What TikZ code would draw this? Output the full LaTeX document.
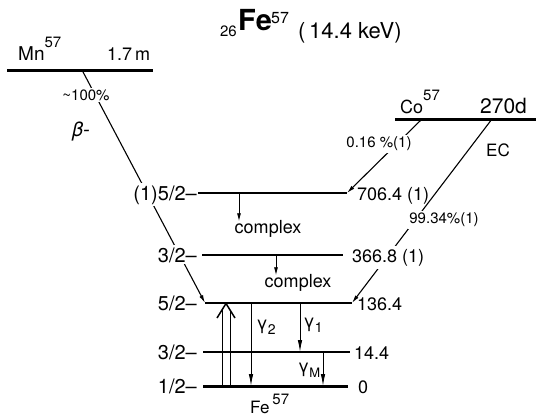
\documentclass[tikz,border=0pt]{standalone}
\usepackage{fontspec}
\setmainfont{TeX Gyre Heros}
\usetikzlibrary{arrows.meta}
\newcommand\myfs[1]{\fontsize{#1}{#1}\selectfont}
\begin{document}
\begin{tikzpicture}[x=1pt,y=-1pt,
  level/.style={line width=2pt},
  thicklevel/.style={line width=3pt},
  decay/.style={line width=1.1pt,-{Latex[length=8pt,width=4pt]}},
  gam/.style={line width=0.9pt,-{Latex[length=12pt,width=4.5pt]}},
  cplx/.style={line width=0.9pt,-{Latex[length=8pt,width=4pt]}},
  lab/.style={inner sep=0pt,font=\myfs{18}},
  spin/.style={anchor=base east,inner xsep=0pt,inner ysep=2pt,fill=white,font=\myfs{20}},
  small/.style={fill=white,inner sep=1.5pt,font=\myfs{15}},
]
\useasboundingbox (0,0) rectangle (536,418);
% level coordinates
\coordinate (mnL) at (7,70);   \coordinate (mnR) at (153,70);
\coordinate (coL) at (395,119); \coordinate (coR) at (536,119);
\coordinate (aL) at (198,193); \coordinate (aR) at (347,193);
\coordinate (bL) at (202,255); \coordinate (bR) at (343,255);
\coordinate (cL) at (205,303); \coordinate (cR) at (352,303);
\coordinate (dL) at (203,352); \coordinate (dR) at (350,352);
\coordinate (eL) at (203,386); \coordinate (eR) at (348,386);
% levels
\draw[thicklevel] (mnL) -- (mnR);
\draw[thicklevel] (coL) -- (coR);
\draw[level] (aL) -- (aR);
\draw[level] (bL) -- (bR);
\draw[level] (cL) -- (cR);
\draw[line width=1.5pt] (dL) -- (dR);
\draw[thicklevel] (eL) -- (eR);
% decay lines
\coordinate (mnS) at (82,70);
\coordinate (coS1) at (422,119);
\coordinate (coS2) at (492,119);
\draw[decay] (mnS) -- (cL);
\draw[decay] (coS1) -- (aR);
\draw[decay] (coS2) -- (cR);
% complex
\node[lab] (cx1) at (268,229) {complex};
\node[lab] (cx2) at (298,283) {complex};
\coordinate (x1) at (239,193);
\coordinate (x2) at (276,255);
\draw[cplx] (x1) -- ([yshift=-1pt]x1 |- cx1.north);
\draw[cplx] (x2) -- ([yshift=-1pt]x2 |- cx2.north);
% gamma arrows
\coordinate (g2s) at (251,303); \coordinate (g2e) at (251,386);
\coordinate (g1s) at (300,303); \coordinate (g1e) at (300,352);
\coordinate (gms) at (323,352); \coordinate (gme) at (323,386);
\draw[gam] (g2s) -- (g2e);
\draw[gam] (g1s) -- (g1e);
\draw[gam] (gms) -- (gme);
% absorption (up) arrow
\coordinate (u1b) at (222,386); \coordinate (u1t) at (222,310);
\coordinate (u2b) at (230.5,386); \coordinate (u2t) at (230.5,310.5);
\coordinate (chl) at (217,318); \coordinate (chtop) at (226,303.5); \coordinate (chr) at (235,318);
\draw[line width=0.9pt] (u1b) -- (u1t);
\draw[line width=0.9pt] (u2b) -- (u2t);
\draw[line width=1.5pt] (chl) -- (chtop) -- (chr);
% title
\node[anchor=base east,inner sep=0pt,font=\myfs{15}] (t26) at (237,36) {26};
\node[anchor=base west,inner sep=0pt,font=\myfs{29}\bfseries] (tFe) at (238,30) {Fe};
\node[anchor=base west,inner sep=0pt,font=\myfs{16}] (t57) at (271,23) {57};
\node[anchor=base west,inner sep=0pt,font=\myfs{22}] (tkev) at (298,38) {(\,14.4 keV)};
% parents
\node[anchor=base west,inner sep=0pt,font=\myfs{19}] (mnlab) at (18,60) {Mn\raisebox{13pt}{\myfs{15}57}};
\node[anchor=base west,inner sep=0pt,font=\myfs{18}] (mnhl) at (107,60) {1.7\,m};
\node[anchor=base west,inner sep=0pt,font=\myfs{18}] (colab) at (400,113) {Co\raisebox{13pt}{\myfs{15}57}};
\node[anchor=base west,inner sep=0pt,font=\myfs{21}] (cohl) at (480,113) {270d};
\node[inner sep=0pt,font=\myfs{17}] (ec) at (498,150) {EC};
\node[anchor=base west,inner sep=0pt,font=\myfs{20}] (beta) at (72,136) {\itshape β-};
\node[small] (p100) at (86,95) {\textasciitilde100\%};
\node[small] (p016) at (379,144) {0.16 \%(1)};
\node[small] (p9934) at (444,220) {99.34\%(1)};
% spins
\node[spin] (s706) at (197,200) {(1)5/2–};
\node[spin] (s366) at (197,262) {3/2–};
\node[spin] (s136) at (197,310) {5/2–};
\node[spin] (s14) at (197,359) {3/2–};
\node[spin] (s0) at (197,393) {1/2–};
% energies
\node[anchor=base west,inner sep=0pt,font=\myfs{18}] (e706) at (357,200) {706.4 (1)};
\node[anchor=base west,inner xsep=0pt,inner ysep=3pt,fill=white,font=\myfs{18}] (e366) at (352,262) {366.8 (1)};
\node[anchor=base west,inner sep=0pt,font=\myfs{18}] (e136) at (357,310) {136.4};
\node[anchor=base west,inner sep=0pt,font=\myfs{18}] (e14) at (354,359) {14.4};
\node[anchor=base west,inner sep=0pt,font=\myfs{18}] (e0) at (358,393) {0};
% gamma labels
\node[inner sep=0pt,font=\myfs{18}] (lg2) at (266,327) {γ\raisebox{-5pt}{\myfs{14}2}};
\node[inner sep=0pt,font=\myfs{18}] (lg1) at (313,325) {γ\raisebox{-5pt}{\myfs{14}1}};
\node[inner sep=0pt,font=\myfs{18}] (lgm) at (309,370) {γ\raisebox{-5pt}{\myfs{13}M}};
% daughter
\node[anchor=base west,inner sep=0pt,font=\myfs{17}] (fe) at (250,413) {Fe\,\raisebox{9pt}{\myfs{15}57}};
\end{tikzpicture}
\end{document}
